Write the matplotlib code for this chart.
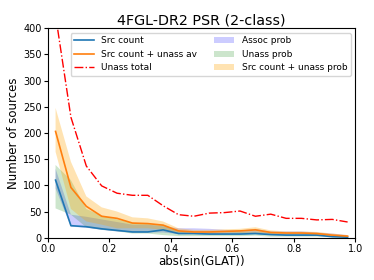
import numpy as np
from matplotlib import pyplot as plt

# bin centres in abs(sin(GLAT))
x = [0.025, 0.075, 0.125, 0.175, 0.225, 0.275, 0.325, 0.375, 0.425, 0.475,
     0.525, 0.575, 0.625, 0.675, 0.725, 0.775, 0.825, 0.875, 0.925, 0.975]

src_count = [110, 23, 21, 17, 14, 11, 11, 15, 8, 8, 7, 7, 7, 8, 6, 5, 5, 5, 2, 1]
src_unass_av = [203, 96, 60, 41, 37, 28, 27, 24, 13, 11, 11, 12, 13, 15, 10, 9, 9, 8, 5, 3]
unass_total = [425, 230, 137, 99, 85, 81, 81, 61, 44, 41, 47, 48, 51, 41, 45, 37, 37, 34, 35, 30]

assoc_lo = [94, 21, 19, 15, 12, 10, 10, 10, 7, 7, 6, 6, 6, 7, 5, 5, 4, 4, 2, 1]
assoc_hi = [132, 44, 40, 35, 30, 25, 25, 22, 18, 18, 17, 15, 14, 17, 12, 12, 12, 10, 8, 5]
unass_lo = [56, 44, 20, 15, 12, 8, 8, 5, 3, 3, 3, 3, 3, 4, 2, 2, 2, 2, 1, 0]
unass_hi = [139, 110, 55, 42, 35, 28, 26, 25, 12, 10, 10, 10, 11, 12, 9, 8, 8, 7, 5, 3]
tot_lo = [164, 55, 31, 25, 18, 18, 18, 15, 8, 7, 7, 8, 9, 10, 7, 6, 6, 5, 3, 1]
tot_hi = [248, 145, 79, 58, 50, 39, 37, 31, 18, 15, 15, 16, 17, 20, 14, 12, 12, 11, 8, 5]

fig = plt.figure(figsize=(3.74, 2.80), dpi=100)
ax = fig.add_axes([0.128, 0.151, 0.822, 0.748])

ax.plot(x, src_count, lw=1.2, label='Src count')
ax.plot(x, src_unass_av, lw=1.2, label='Src count + unass av')
ax.plot(x, unass_total, c='red', ls='-.', lw=1, label='Unass total')
ax.fill_between(x, assoc_lo, assoc_hi, facecolor='blue', alpha=0.2, label='Assoc prob')
ax.fill_between(x, unass_lo, unass_hi, facecolor='green', alpha=0.2, label='Unass prob')
ax.fill_between(x, tot_lo, tot_hi, facecolor='orange', alpha=0.3, label='Src count + unass prob')

ax.set_xlim(0, 1)
ax.set_ylim(0, 400)
ax.set_title('4FGL-DR2 PSR (2-class)', fontsize=10.3, pad=3)
ax.set_xlabel('abs(sin(GLAT))', fontsize=8.5, labelpad=1)
ax.set_ylabel('Number of sources', fontsize=8.5, labelpad=2)
ax.tick_params(axis='both', which='major', labelsize=7, pad=1.5, length=3)
ax.legend(loc='upper right', ncol=2, fontsize=6.5, handlelength=2.2, columnspacing=1.9,
          handletextpad=0.8, labelspacing=0.5, borderpad=0.4)

fig.savefig('out.png', dpi=100)
